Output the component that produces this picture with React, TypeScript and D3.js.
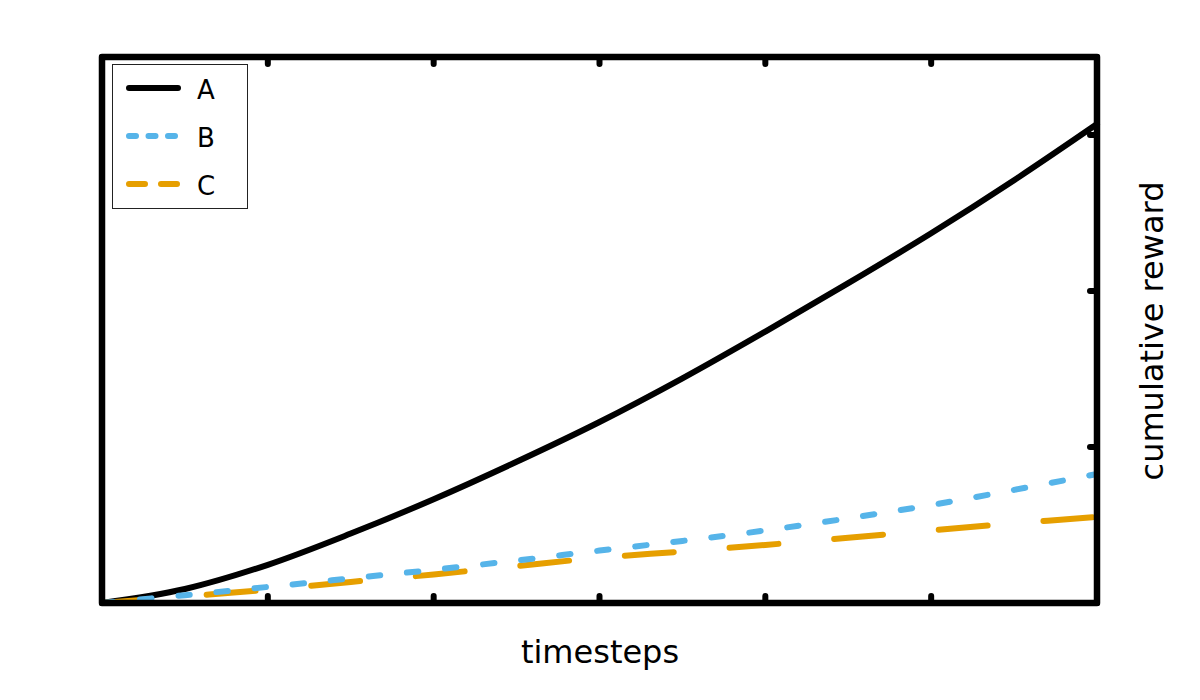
import React from "react";
import * as d3 from "d3";

const steps = [0, 0.5, 1, 1.5, 2, 2.5, 3, 3.5, 4, 4.5, 5, 5.5, 6];
const seriesA = [0, 0.09, 0.245, 0.445, 0.665, 0.905, 1.16, 1.44, 1.74, 2.05, 2.37, 2.71, 3.07];
const seriesB = [0, 0.05, 0.103, 0.158, 0.213, 0.272, 0.336, 0.398, 0.465, 0.543, 0.628, 0.725, 0.827];
const seriesC = [0, 0.042, 0.085, 0.135, 0.183, 0.237, 0.29, 0.33, 0.372, 0.418, 0.466, 0.51, 0.552];
const xTicks = [0, 1, 2, 3, 4, 5, 6];
const yTicks = [0, 1, 2, 3];
const legendLabels = ["A", "B", "C"];

const W = 1200;
const H = 700;
const left = 102, right = 1097, top = 57, bottom = 603;
const FONT = "DejaVu Sans, sans-serif";

export default function App() {
  const x = d3.scaleLinear().domain([0, 6]).range([left, right]);
  const y = d3.scaleLinear().domain([0, 3.5]).range([bottom, top]);
  const line = d3
    .line<number>()
    .x((_, i) => x(steps[i]))
    .y((d) => y(d))
    .curve(d3.curveCatmullRom.alpha(0.5));

  const series = [
    { name: legendLabels[0], data: seriesA, color: "#000000", dash: "none", legendDash: "none" },
    { name: legendLabels[1], data: seriesB, color: "#56B4E9", dash: "11.5 26.8", legendDash: "7 12.5" },
    { name: legendLabels[2], data: seriesC, color: "#E69F00", dash: "49 56", legendDash: "16 16" },
  ];
  const drawOrder = [series[0], series[2], series[1]];
  const tl = 7;

  return (
    <svg width={W} height={H} style={{ display: "block", position: "absolute", left: 0, top: 0 }}>
      <rect x={0} y={0} width={W} height={H} fill="#ffffff" />
      {drawOrder.map((s) => (
        <path
          key={s.name}
          d={line(s.data) || ""}
          fill="none"
          stroke={s.color}
          strokeWidth={6}
          strokeLinecap="round"
          strokeLinejoin="round"
          strokeDasharray={s.dash}
        />
      ))}
      {xTicks.map((t) => (
        <g key={"xt" + t}>
          <line x1={x(t)} x2={x(t)} y1={top} y2={top + tl} stroke="#000" strokeWidth={6} strokeLinecap="round" />
          <line x1={x(t)} x2={x(t)} y1={bottom} y2={bottom - tl} stroke="#000" strokeWidth={6} strokeLinecap="round" />
        </g>
      ))}
      {yTicks.map((t) => (
        <line key={"yt" + t} x1={right} x2={right - tl} y1={y(t)} y2={y(t)} stroke="#000" strokeWidth={6} strokeLinecap="round" />
      ))}
      <rect
        x={left}
        y={top}
        width={right - left}
        height={bottom - top}
        fill="none"
        stroke="#000"
        strokeWidth={6.5}
        strokeLinejoin="round"
      />
      <rect x={112.5} y={64.5} width={135} height={144} fill="#ffffff" stroke="#222" strokeWidth={1} />
      {series.map((s, i) => {
        const ly = 88 + i * 48;
        return (
          <g key={"lg" + s.name}>
            <line
              x1={129}
              x2={178}
              y1={ly}
              y2={ly}
              stroke={s.color}
              strokeWidth={6}
              strokeLinecap="round"
              strokeDasharray={s.legendDash}
            />
            <text x={197} y={ly + 11} fontFamily={FONT} fontSize={26} fill="#000">
              {s.name}
            </text>
          </g>
        );
      })}
      <text x={600} y={663} textAnchor="middle" fontFamily={FONT} fontSize={32} fill="#000">
        timesteps
      </text>
      <text
        transform={`translate(1163,331) rotate(-90)`}
        textAnchor="middle"
        fontFamily={FONT}
        fontSize={32}
        fill="#000"
      >
        cumulative reward
      </text>
    </svg>
  );
}
